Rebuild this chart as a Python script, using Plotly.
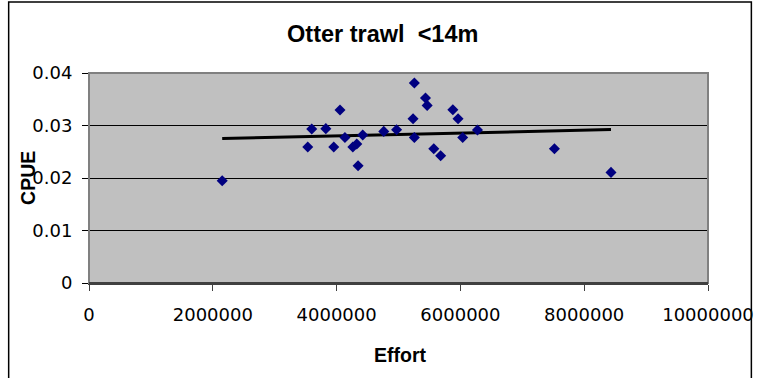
import numpy as np
import plotly.graph_objects as go

# Data
effort = [2152000, 3534000, 3598000, 3826000, 3954000, 4055000, 4135000, 4262000,
          4326000, 4347000, 4422000, 4762000, 4969000, 5256000, 5235000, 5256000,
          5436000, 5463000, 5570000, 5681000, 5878000, 5962000, 6037000, 6276000,
          7519000, 8433000]
cpue = [0.01949, 0.0259, 0.02933, 0.0294, 0.0259, 0.03295, 0.02773, 0.0259,
        0.02648, 0.02234, 0.02819, 0.02888, 0.0292, 0.0381, 0.0313, 0.02773,
        0.03524, 0.03383, 0.02558, 0.02425, 0.03301, 0.0313, 0.02773, 0.02914,
        0.02558, 0.02107]

x_ticks = [0, 2000000, 4000000, 6000000, 8000000, 10000000]
x_ticklabels = ["0", "2000000", "4000000", "6000000", "8000000", "10000000"]
y_ticks = [0, 0.01, 0.02, 0.03, 0.04]
y_ticklabels = ["0", "0.01", "0.02", "0.03", "0.04"]

# Linear trendline (least squares), spanning min..max effort
slope, intercept = np.polyfit(effort, cpue, 1)
tx = [min(effort), max(effort)]
ty = [slope * v + intercept for v in tx]

fig = go.Figure()
fig.add_trace(go.Scatter(x=tx, y=ty, mode="lines",
                         line=dict(color="black", width=3), hoverinfo="skip",
                         showlegend=False))
fig.add_trace(go.Scatter(x=effort, y=cpue, mode="markers",
                         marker=dict(symbol="diamond", size=8.5, color="#000080",
                                     line=dict(width=0)),
                         showlegend=False))

W, H = 766, 378
L, R, T, B = 89, 49, 73, 95
pw, ph = W - L - R, H - T - B

def px(xp):
    return (xp - L) / pw

def py(yp):
    return (H - B - yp) / ph

tick_font = dict(family="DejaVu Sans", size=18, color="black")

fig.update_layout(
    width=W, height=H,
    margin=dict(l=L, r=R, t=T, b=B, pad=0),
    paper_bgcolor="white",
    plot_bgcolor="#C0C0C0",
    title=dict(text="<b>Otter trawl &nbsp;&lt;14m</b>",
               font=dict(family="Liberation Sans", size=23.5, color="black"),
               x=px(387), xref="paper", xanchor="center",
               y=1 - 34 / H, yref="container", yanchor="middle"),
    xaxis=dict(range=[0, 10000000], tickvals=x_ticks, ticktext=x_ticklabels,
               showgrid=False, zeroline=False,
               showline=True, linecolor="#404040", linewidth=2,
               ticks="outside", ticklen=6, tickcolor="#404040", tickwidth=1,
               tickfont=tick_font, ticklabelstandoff=8),
    yaxis=dict(range=[0, 0.04], tickvals=y_ticks, ticktext=y_ticklabels,
               showgrid=True, gridcolor="black", gridwidth=1, zeroline=False,
               showline=True, linecolor="black", linewidth=1,
               ticks="outside", ticklen=6, tickcolor="black", tickwidth=1,
               tickfont=tick_font, ticklabelstandoff=6),
    shapes=[
        # plot-area border (top and right) in grey
        dict(type="rect", xref="paper", yref="paper", x0=0, x1=1, y0=0, y1=1,
             line=dict(color="#808080", width=2), fillcolor="rgba(0,0,0,0)", layer="above"),
        # outer chart-area frame
        dict(type="rect", xref="paper", yref="paper",
             x0=px(7.5), x1=px(761), y0=py(400), y1=py(2),
             line=dict(color="black", width=1.5), fillcolor="rgba(0,0,0,0)", layer="above"),
    ],
    annotations=[
        dict(text="<b>Effort</b>", xref="paper", yref="paper", x=px(405), y=py(355),
             xanchor="center", yanchor="middle", showarrow=False,
             font=dict(family="Liberation Sans", size=19.5, color="black")),
        dict(text="<b>CPUE</b>", xref="paper", yref="paper", x=px(27), y=py(178),
             xanchor="center", yanchor="middle", showarrow=False, textangle=-90,
             font=dict(family="Liberation Sans", size=19.5, color="black")),
    ],
)
# x-axis line drawn again on top so the bottom edge is dark
fig.add_shape(type="line", xref="paper", yref="paper", x0=0, x1=1, y0=0, y1=0,
              line=dict(color="#404040", width=2), layer="above")

fig.write_html("out.html")
